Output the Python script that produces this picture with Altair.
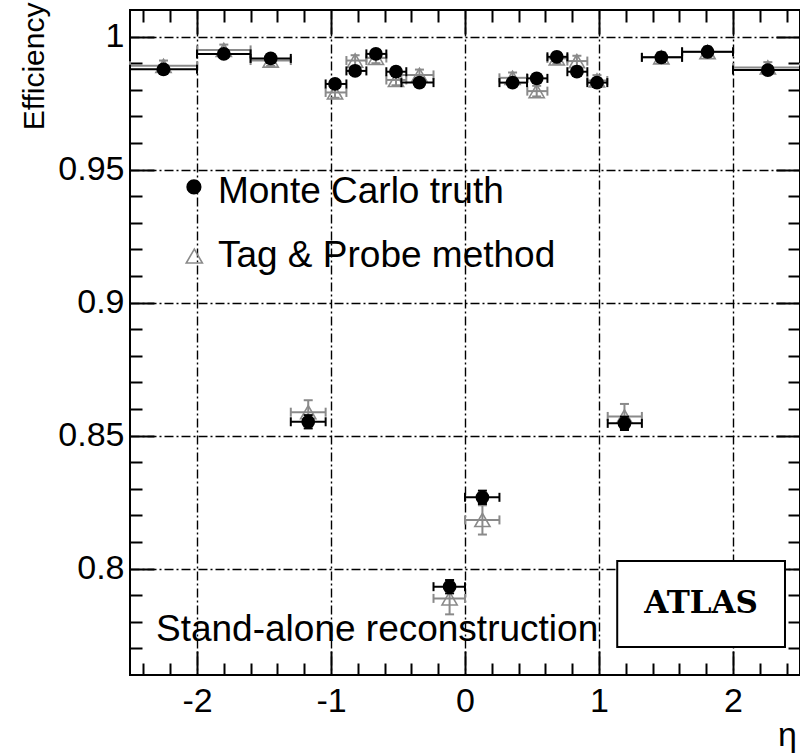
import altair as alt
import pandas as pd

# ---------------- data ----------------
eta    = [-2.25, -1.80, -1.45, -1.17, -0.97, -0.82, -0.665, -0.515, -0.34, -0.115,
          0.13, 0.355, 0.535, 0.685, 0.835, 0.985, 1.19, 1.465, 1.81, 2.26]
eta_lo = [-2.50, -2.00, -1.60, -1.30, -1.04, -0.885, -0.736, -0.587, -0.475, -0.235,
          0.00, 0.257, 0.465, 0.615, 0.764, 0.913, 1.065, 1.32, 1.62, 2.00]
eta_hi = [-2.00, -1.60, -1.30, -1.04, -0.885, -0.736, -0.587, -0.438, -0.235, 0.00,
          0.257, 0.463, 0.615, 0.764, 0.913, 1.062, 1.32, 1.62, 2.00, 2.50]

eff_mc = [0.9877, 0.9935, 0.9918, 0.8552, 0.9822, 0.9871, 0.9935, 0.9868, 0.9827, 0.7932,
          0.8268, 0.9827, 0.9843, 0.9924, 0.9868, 0.9827, 0.8546, 0.9922, 0.9943, 0.9874]
err_mc = [0.0015, 0.0015, 0.0015, 0.0025, 0.0015, 0.0015, 0.0015, 0.0015, 0.0015, 0.0025,
          0.0025, 0.0015, 0.0015, 0.0015, 0.0015, 0.0015, 0.0025, 0.0015, 0.0015, 0.0015]

eff_tp = [0.9890, 0.9950, 0.9910, 0.8588, 0.9790, 0.9910, 0.9920, 0.9837, 0.9856, 0.7888,
          0.8183, 0.9845, 0.9795, 0.9918, 0.9908, 0.9835, 0.8572, 0.9922, 0.9942, 0.9884]
err_tp = [0.0020, 0.0020, 0.0020, 0.0045, 0.0020, 0.0020, 0.0020, 0.0020, 0.0020, 0.0060,
          0.0055, 0.0020, 0.0020, 0.0020, 0.0020, 0.0020, 0.0047, 0.0020, 0.0020, 0.0020]

# tick values
x_major = [-2, -1, 0, 1, 2]
x_minor = [-2.4, -2.2, -1.8, -1.6, -1.4, -1.2, -0.8, -0.6, -0.4, -0.2,
           0.2, 0.4, 0.6, 0.8, 1.2, 1.4, 1.6, 1.8, 2.2, 2.4]
y_major = [0.8, 0.85, 0.9, 0.95, 1.0]
y_minor = [0.77, 0.78, 0.79, 0.81, 0.82, 0.83, 0.84, 0.86, 0.87, 0.88, 0.89,
           0.91, 0.92, 0.93, 0.94, 0.96, 0.97, 0.98, 0.99]

# annotations (data coordinates)
legend_labels = ["Monte Carlo truth", "Tag & Probe method"]
legend_marker_eta = [-2.023, -2.020]
legend_marker_eff = [0.9435, 0.9175]
legend_text_eta = [-1.844, -1.844]
legend_text_eff = [0.9374, 0.9134]
note_text = ["Stand-alone reconstruction"]
note_eta = [-2.306]
note_eff = [0.7728]
atlas_text = ["ATLAS"]
atlas_box_eta = [1.136, 2.388]
atlas_box_eff = [0.7705, 0.8029]

# ---------------- tables ----------------
df = pd.DataFrame({
    "eta": eta, "lo": eta_lo, "hi": eta_hi,
    "mc": eff_mc, "mc_lo": [m - e for m, e in zip(eff_mc, err_mc)],
    "mc_hi": [m + e for m, e in zip(eff_mc, err_mc)],
    "tp": eff_tp, "tp_lo": [m - e for m, e in zip(eff_tp, err_tp)],
    "tp_hi": [m + e for m, e in zip(eff_tp, err_tp)],
})
xcap_tp = pd.DataFrame({"x": eta_lo + eta_hi, "y": eff_tp + eff_tp})
ycap_tp = pd.DataFrame({"x": eta + eta, "y": list(df.tp_lo) + list(df.tp_hi)})
xcap_mc = pd.DataFrame({"x": eta_lo + eta_hi, "y": eff_mc + eff_mc})
ycap_mc = pd.DataFrame({"x": eta + eta, "y": list(df.mc_lo) + list(df.mc_hi)})
leg_mc = pd.DataFrame({"x": [legend_marker_eta[0]], "y": [legend_marker_eff[0]]})
leg_tp = pd.DataFrame({"x": [legend_marker_eta[1]], "y": [legend_marker_eff[1]]})
leg_txt = pd.DataFrame({"x": legend_text_eta, "y": legend_text_eff, "t": legend_labels})
note_df = pd.DataFrame({"x": note_eta, "y": note_eff, "t": note_text})
box_df = pd.DataFrame({"x": [atlas_box_eta[0]], "x2": [atlas_box_eta[1]],
                       "y": [atlas_box_eff[0]], "y2": [atlas_box_eff[1]],
                       "xc": [(atlas_box_eta[0] + atlas_box_eta[1]) / 2],
                       "yc": [(atlas_box_eff[0] + atlas_box_eff[1]) / 2],
                       "t": atlas_text})

# ---------------- geometry / style ----------------
W, H = 670, 665
GREY = "#8a8a8a"
FONT = "Liberation Sans"
xs = alt.Scale(domain=[-2.5, 2.5], nice=False, zero=False)
ys = alt.Scale(domain=[0.76, 1.01], nice=False, zero=False)
GRID = dict(grid=True, gridColor="black", gridDash=[9, 3, 2, 3], gridWidth=1.4, gridOpacity=1)

x_main = alt.Axis(orient="bottom", values=x_major, labelExpr="'' + datum.value",
                  ticks=False, tickSize=0, domain=False, labelPadding=9, labelOverlap=False,
                  labelFont=FONT, labelFontSize=34, labelColor="black",
                  title="η", titleFont=FONT, titleFontSize=34, titleFontWeight="normal",
                  titleColor="black", titleX=657, titleY=70, titleAlign="center",
                  titleBaseline="alphabetic", **GRID)
y_main = alt.Axis(orient="left", values=y_major, labelExpr="'' + datum.value",
                  ticks=False, tickSize=0, domain=False, labelPadding=6, labelOverlap=False,
                  labelFont=FONT, labelFontSize=34, labelColor="black",
                  title="Efficiency", titleFont=FONT, titleFontSize=30, titleFontWeight="normal",
                  titleColor="black", titleAngle=270, titleX=-87, titleY=-8,
                  titleAlign="right", titleBaseline="alphabetic", **GRID)


def tick_axis(orient, offset, values, size):
    return alt.Axis(orient=orient, offset=offset, values=values, tickSize=size,
                    tickWidth=2, tickColor="black", labels=False, domain=False,
                    grid=False, title=None)


MAJ, MIN = 24, 12
x_bot_major = tick_axis("top", -H, x_major, MAJ)      # sits on bottom edge, ticks inward
x_bot_minor = tick_axis("top", -H, x_minor, MIN)
x_top_major = tick_axis("bottom", -H, x_major, MAJ)   # sits on top edge, ticks inward
x_top_minor = tick_axis("bottom", -H, x_minor, MIN)
y_left_major = tick_axis("right", -W, y_major, MAJ)   # sits on left edge, ticks inward
y_left_minor = tick_axis("right", -W, y_minor, MIN)
y_right_major = tick_axis("left", -W, y_major, MAJ)   # sits on right edge, ticks inward
y_right_minor = tick_axis("left", -W, y_minor, MIN)


def X(f, axis=None):
    return alt.X(f, type="quantitative", scale=xs, axis=axis)


def Y(f, axis=None):
    return alt.Y(f, type="quantitative", scale=ys, axis=axis)


# ---------------- layers ----------------
tp_xbar = alt.Chart(df).mark_rule(color=GREY, strokeWidth=2).encode(
    x=X("lo", x_main), x2="hi", y=Y("tp", y_main))
tp_ybar = alt.Chart(df).mark_rule(color=GREY, strokeWidth=2).encode(
    x=X("eta", x_bot_major), y=Y("tp_lo", y_left_major), y2="tp_hi")
tp_xcap = alt.Chart(xcap_tp).mark_tick(orient="vertical", size=9, thickness=2, color=GREY, opacity=1).encode(
    x=X("x", x_bot_minor), y=Y("y", y_left_minor))
tp_ycap = alt.Chart(ycap_tp).mark_tick(orient="horizontal", size=9, thickness=2, color=GREY, opacity=1).encode(
    x=X("x", x_top_major), y=Y("y", y_right_major))
tp_pts = alt.Chart(df).mark_point(shape="triangle-up", filled=False, color=GREY, strokeWidth=1.6,
                                  size=230, opacity=1).encode(
    x=X("eta", x_top_minor), y=Y("tp", y_right_minor))

mc_xbar = alt.Chart(df).mark_rule(color="black", strokeWidth=2).encode(
    x=X("lo"), x2="hi", y=Y("mc"))
mc_ybar = alt.Chart(df).mark_rule(color="black", strokeWidth=2).encode(
    x=X("eta"), y=Y("mc_lo"), y2="mc_hi")
mc_xcap = alt.Chart(xcap_mc).mark_tick(orient="vertical", size=9, thickness=2, color="black", opacity=1).encode(
    x=X("x"), y=Y("y"))
mc_ycap = alt.Chart(ycap_mc).mark_tick(orient="horizontal", size=9, thickness=2, color="black", opacity=1).encode(
    x=X("x"), y=Y("y"))
mc_pts = alt.Chart(df).mark_point(shape="circle", filled=True, color="black", size=190, opacity=1).encode(
    x=X("eta"), y=Y("mc"))

leg_c = alt.Chart(leg_mc).mark_point(shape="circle", filled=True, color="black", size=230, opacity=1).encode(
    x=X("x"), y=Y("y"))
leg_t = alt.Chart(leg_tp).mark_point(shape="triangle-up", filled=False, color=GREY, strokeWidth=1.6,
                                     size=260, opacity=1).encode(x=X("x"), y=Y("y"))
leg_text = alt.Chart(leg_txt).mark_text(align="left", baseline="alphabetic", font=FONT, fontSize=37,
                                        color="black").encode(x=X("x"), y=Y("y"), text="t:N")
note = alt.Chart(note_df).mark_text(align="left", baseline="alphabetic", font=FONT, fontSize=37,
                                    color="black").encode(x=X("x"), y=Y("y"), text="t:N")
box = alt.Chart(box_df).mark_rect(fill="white", stroke="black", strokeWidth=2).encode(
    x=X("x"), x2="x2", y=Y("y"), y2="y2")
atlas = alt.Chart(box_df).mark_text(align="center", baseline="middle", font="DejaVu Serif",
                                    fontWeight="bold", fontSize=31, color="black").encode(
    x=X("xc"), y=Y("yc"), text="t:N")

chart = alt.layer(
    tp_xbar, tp_ybar, tp_xcap, tp_ycap, tp_pts,
    mc_xbar, mc_ybar, mc_xcap, mc_ycap, mc_pts,
    leg_c, leg_t, leg_text, note, box, atlas,
).resolve_axis(x="independent", y="independent").properties(
    width=W, height=H,
    autosize=alt.AutoSizeParams(type="none"),
    padding={"left": 130, "top": 10, "right": 0, "bottom": 79},
    background="white",
).configure_view(stroke="black", strokeWidth=2)

chart.save("out.html", embed_options={"renderer": "svg", "actions": False})
